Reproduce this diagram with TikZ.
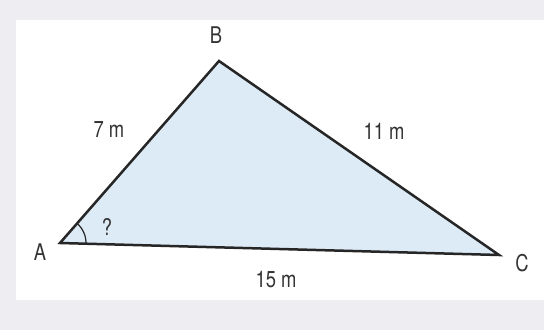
\documentclass[tikz,border=0pt]{standalone}
\usepackage{fontspec}
\setmainfont[FakeStretch=0.8]{TeX Gyre Heros}
\definecolor{bggray}{HTML}{EEEEF2}
\definecolor{trifill}{HTML}{DDEBF7}
\definecolor{txt}{HTML}{333333}
\tikzset{
  lbl/.style={text=txt,font=\fontsize{23}{26}\selectfont,inner sep=0pt},
  side/.style={draw=black!85,line width=2.5pt,line join=miter}
}
\begin{document}
\begin{tikzpicture}[x=1pt,y=1pt]
\fill[bggray] (0,0) rectangle (544,330);
\fill[white] (16,30) rectangle (544,310);
\useasboundingbox (0,0) rectangle (544,330);
\coordinate (A) at (60,87);
\coordinate (B) at (219,269);
\coordinate (C) at (499,75);
\fill[trifill] (A) -- (B) -- (C) -- cycle;
\draw[black!85,line width=1.2pt] ([shift={(-2.5:26)}]A) arc[start angle=-2.5,end angle=49,radius=26];
\draw[side] (A) -- (B) -- (C) -- cycle;
\node[lbl] (lA) at (40,78) {A};
\node[lbl] (lB) at (216,295) {B};
\node[lbl] (lC) at (522,67) {C};
\node[lbl] (l7) at (109,200) {7 m};
\node[lbl] (l11) at (384,199) {11 m};
\node[lbl] (l15) at (276,50) {15 m};
\node[lbl] (q) at (107,103) {?};
\end{tikzpicture}
\end{document}
